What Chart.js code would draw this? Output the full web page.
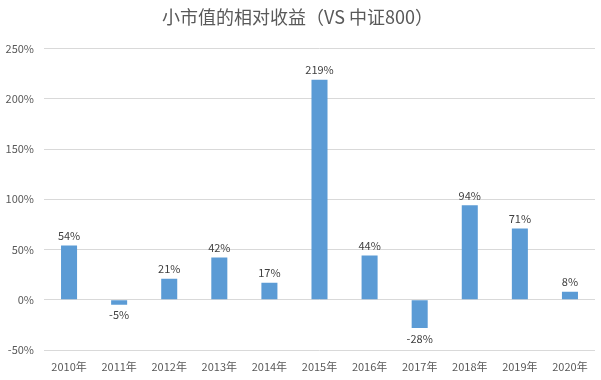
<!DOCTYPE html>
<html><head><meta charset="utf-8">
<script src="https://cdn.jsdelivr.net/npm/chart.js@4"></script>
<style>html,body{margin:0;padding:0;background:#fff}#wrap{width:601px;height:380px}</style>
</head><body><div id="wrap"><canvas id="c" width="601" height="380"></canvas></div>
<script>
const categories = ["2010年","2011年","2012年","2013年","2014年","2015年","2016年","2017年","2018年","2019年","2020年"];
const values = [54, -5, 21, 42, 17, 219, 44, -28, 94, 71, 8];
const yTicks = [-50, 0, 50, 100, 150, 200, 250];
const titleText = "小市值的相对收益（VS 中证800）";

const FONT = "'Noto Sans CJK SC', 'Liberation Sans', sans-serif";

const labelPlugin = {
  id: 'barLabels',
  afterDatasetsDraw(chart) {
    const ctx = chart.ctx;
    const meta = chart.getDatasetMeta(0);
    ctx.save();
    ctx.font = "11px " + FONT;
    ctx.fillStyle = "#404040";
    ctx.textAlign = "center";
    meta.data.forEach((bar, i) => {
      const v = values[i];
      if (v >= 0) {
        ctx.textBaseline = "bottom";
        ctx.fillText(v + "%", bar.x, bar.y - 4);
      } else {
        ctx.textBaseline = "top";
        ctx.fillText(v + "%", bar.x, bar.y + 5);
      }
    });
    ctx.restore();
  }
};

new Chart(document.getElementById('c'), {
  type: 'bar',
  data: {
    labels: categories,
    datasets: [{
      data: values,
      backgroundColor: '#5B9BD5',
      barPercentage: 0.64,
      categoryPercentage: 0.5
    }]
  },
  options: {
    responsive: false,
    animation: false,
    layout: { padding: { left: 0, right: 6, top: 0, bottom: 0 } },
    plugins: {
      legend: { display: false },
      tooltip: { enabled: false },
      title: {
        display: true,
        text: titleText,
        color: '#595959',
        font: { family: FONT, size: 18, weight: 'normal' },
        padding: { top: 6, bottom: 21 }
      }
    },
    scales: {
      x: {
        grid: { display: false },
        border: { display: false },
        ticks: { color: '#595959', font: { family: FONT, size: 11 }, padding: 2, maxRotation: 0 },
        afterFit(s) { s.height = 30; }
      },
      y: {
        min: -50, max: 250,
        afterBuildTicks(s) { s.ticks = yTicks.map(v => ({ value: v })); },
        grid: { color: '#D9D9D9', drawTicks: false },
        border: { display: false },
        ticks: { color: '#595959', font: { family: FONT, size: 11 }, padding: 10, callback: v => v + '%' },
        afterFit(s) { s.width = 44; }
      }
    }
  },
  plugins: [labelPlugin]
});
</script>
</body></html>
